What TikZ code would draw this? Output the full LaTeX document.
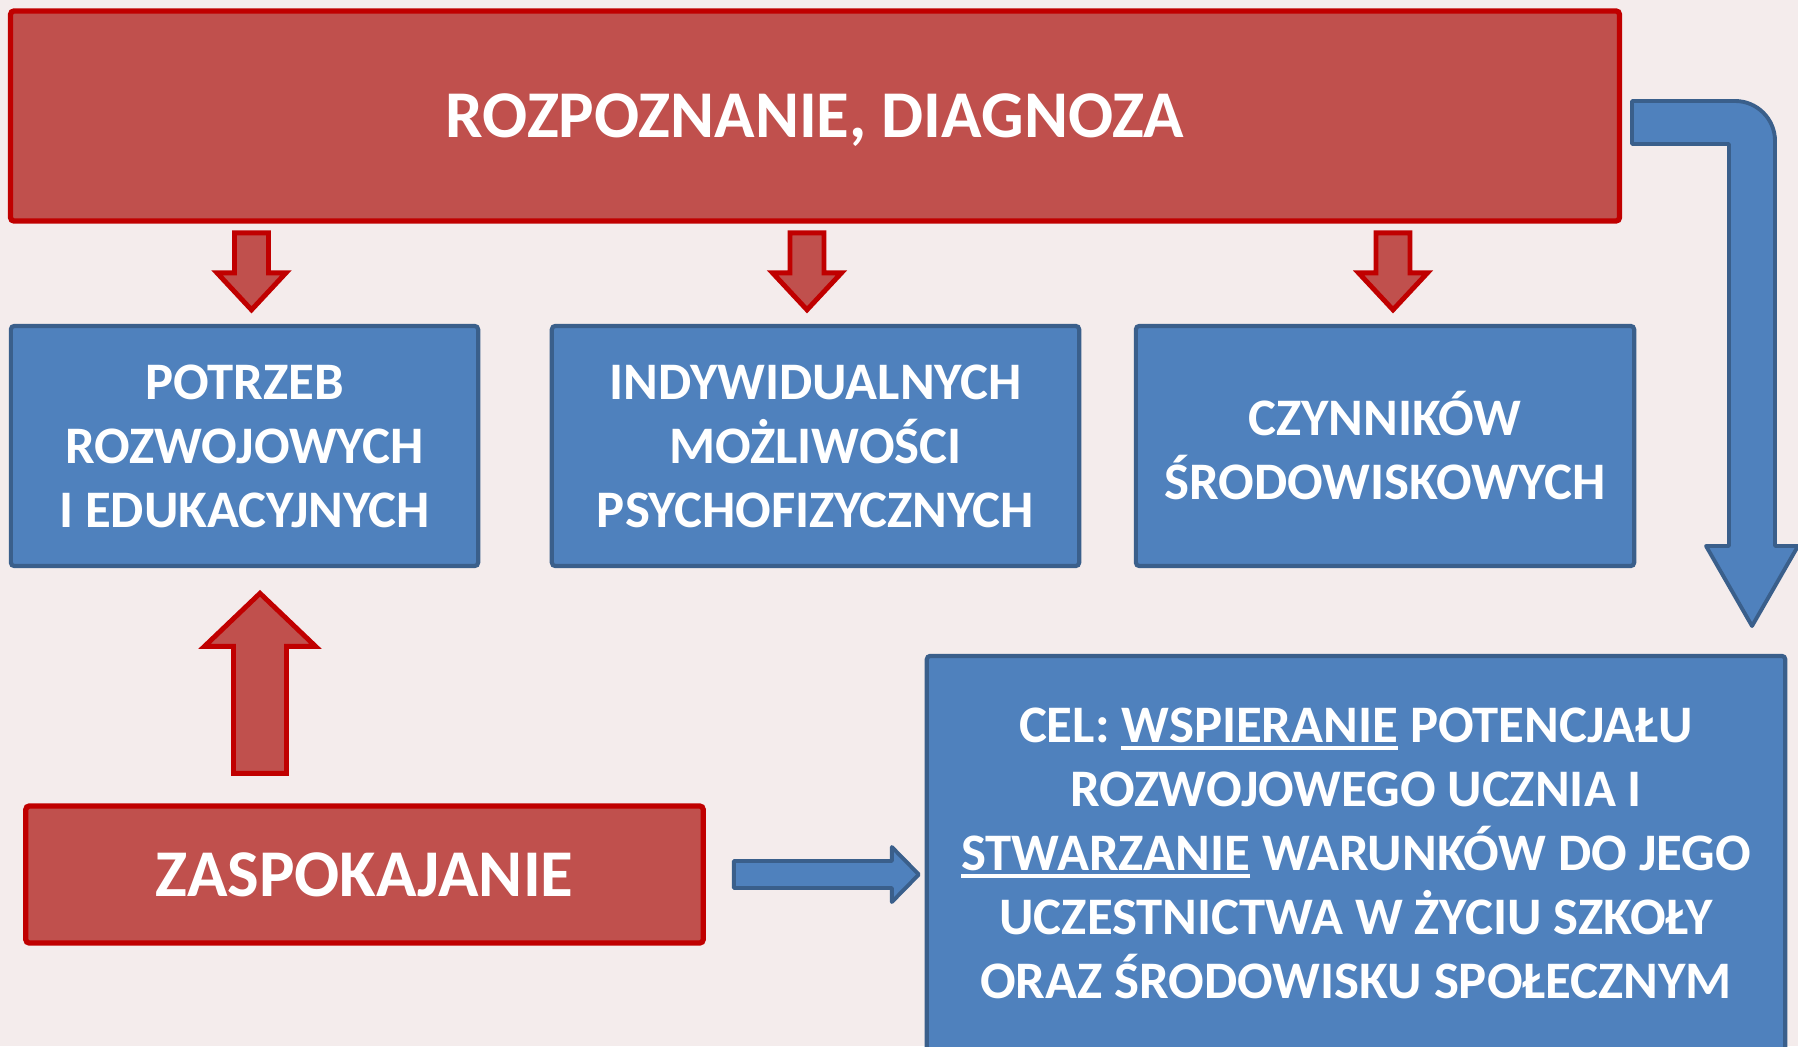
\documentclass[tikz,border=0pt]{standalone}
\usepackage{fontspec}
\setmainfont{Carlito}
\usepackage{tikz}
\usetikzlibrary{calc}

\definecolor{czerwien}{HTML}{C0504D}
\definecolor{czerwramka}{HTML}{C00000}
\definecolor{niebieski}{HTML}{4F81BD}
\definecolor{niebramka}{HTML}{3A5F8B}
\definecolor{tlo}{HTML}{F4ECEC}

\tikzstyle{czerwony} = [rectangle, rounded corners=1pt, fill=czerwien, draw=czerwramka, line width=1.5pt, text=white, font=\fontsize{19pt}{23pt}\selectfont\bfseries, align=center, text depth=0pt]
\tikzstyle{niebieski} = [rectangle, rounded corners=1pt, fill=niebieski, draw=niebramka, line width=1.2pt, text=white, font=\fontsize{15pt}{18.2pt}\selectfont\bfseries, align=center]
\tikzstyle{czerwstrz} = [fill=czerwien, draw=czerwramka, line width=1.4pt, miter limit=20]
\tikzstyle{niebstrz} = [fill=niebieski, draw=niebramka, line width=1.1pt, line join=round]

% styl, ogon, obrot, dlugosc, pol. trzonu, pol. grotu, dl. grotu
\newcommand{\blok}[7]{%
  \begin{scope}[shift={#2}, rotate=#3]
    \draw[#1] (0,-#5) -- (#4-#7,-#5) -- (#4-#7,-#6) -- (#4,0) -- (#4-#7,#6) -- (#4-#7,#5) -- (0,#5) -- cycle;
  \end{scope}}
\newcommand{\podkr}[1]{{\setbox0=\hbox{#1}\rlap{\rule[-0.15em]{\wd0}{0.07em}}\box0}}

\begin{document}
\begin{tikzpicture}[x=0.01cm, y=0.01cm]
        \useasboundingbox (0,0) rectangle (1798,-1046);
        \fill[tlo] (0,0) rectangle (1798,-1046);

        \node[czerwony, minimum width=16.08cm, minimum height=2.10cm] (diag) at (815,-116) {ROZPOZNANIE, DIAGNOZA};

        \node[niebieski, minimum width=4.67cm, minimum height=2.40cm] (potrzeby) at (244.5,-446) {POTRZEB\\ROZWOJOWYCH\\I EDUKACYJNYCH};
        \node[niebieski, minimum width=5.27cm, minimum height=2.40cm] (mozliwosci) at (815.5,-446) {INDYWIDUALNYCH\\MOŻLIWOŚCI\\PSYCHOFIZYCZNYCH};
        \node[niebieski, minimum width=4.98cm, minimum height=2.40cm] (czynniki) at (1385,-446) {CZYNNIKÓW\\ŚRODOWISKOWYCH};

        \node[czerwony, minimum width=6.77cm, minimum height=1.37cm] (zaspokajanie) at (364.5,-874.5) {ZASPOKAJANIE};
        \node[niebieski, minimum width=8.58cm, minimum height=3.94cm] (cel) at (1356,-853) {CEL: \podkr{WSPIERANIE} POTENCJAŁU\\ROZWOJOWEGO UCZNIA I\\\podkr{STWARZANIE} WARUNKÓW DO JEGO\\UCZESTNICTWA W ŻYCIU SZKOŁY\\ORAZ ŚRODOWISKU SPOŁECZNYM};

        \blok{czerwstrz}{($(potrzeby.north)+(7,91)$)}{-90}{77}{17}{34.5}{37}
        \blok{czerwstrz}{($(mozliwosci.north)+(-8.5,91)$)}{-90}{77}{17}{34.5}{37}
        \blok{czerwstrz}{($(czynniki.north)+(8,91)$)}{-90}{77}{17}{34.5}{37}
        \blok{czerwstrz}{($(zaspokajanie.north)+(-104.5,30)$)}{90}{180}{26.5}{55.5}{53}
        \blok{niebstrz}{($(zaspokajanie.east)+(28,0)$)}{0}{185}{13.5}{27.5}{27}

        % strzalka z diagnozy do celu
        \draw[niebstrz] (1632,-101) -- (1735,-101) arc[start angle=90, end angle=0, radius=40] -- (1775,-546) -- (1798,-546) -- (1752,-626) -- (1706,-546) -- (1729,-546) -- (1729,-144) -- (1632,-144) -- cycle;

    \end{tikzpicture}
\end{document}
